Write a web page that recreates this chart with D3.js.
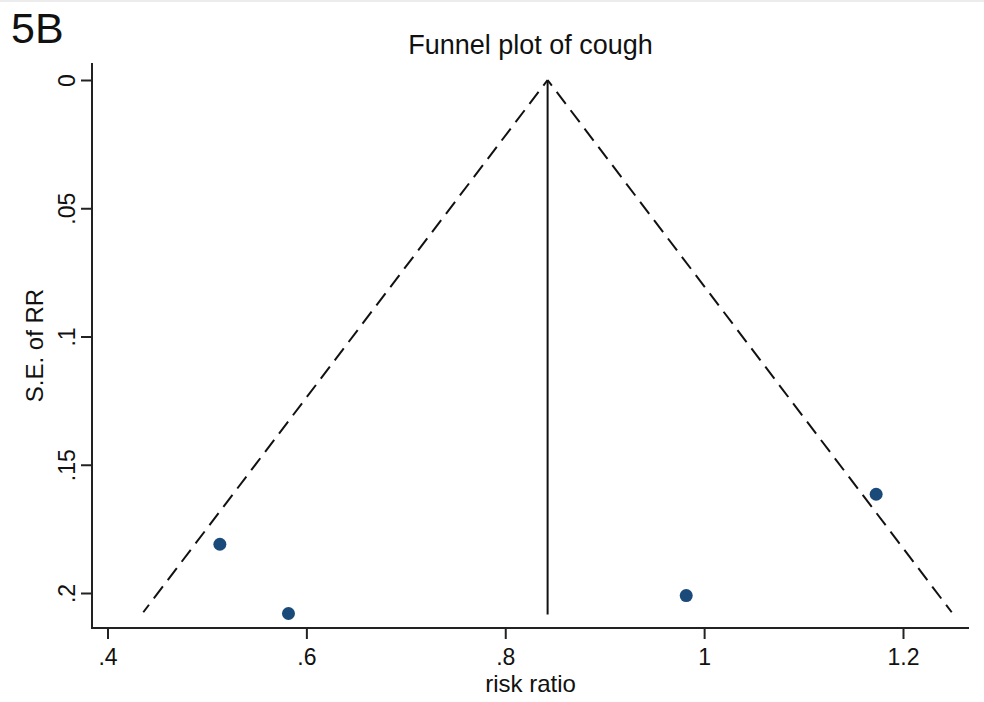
<!DOCTYPE html>
<html>
<head>
<meta charset="utf-8">
<script src="https://cdn.jsdelivr.net/npm/d3@7"></script>
<style>
    body { margin: 0; background: #fff; }
    svg { display: block; font-family: "Liberation Sans", Arial, sans-serif; }
</style>
</head>
<body>
<svg id="plate" width="984" height="702"></svg>
<script>
// study estimates
var riskRatio = [0.513, 0.582, 0.982, 1.173];
var stdErr = [0.181, 0.208, 0.201, 0.1615];
// pooled estimate and pseudo 95% limits (se from 0 to max)
var pooled = 0.8426;
var limitSE = [0, 0.2075];
var lowerLimit = [0.8426, 0.436];
var upperLimit = [0.8426, 1.249];
var xTicks = [0.4, 0.6, 0.8, 1, 1.2];
var yTicks = [0, 0.05, 0.1, 0.15, 0.2];

var svg = d3.select('#plate');

// plot frame in pixels
var margin = {left: 92, right: 969, top: 63, bottom: 628};

var x = d3.scaleLinear().domain([0.4, 1.2]).range([107.5, 903]);
var y = d3.scaleLinear().domain([0, 0.2]).range([80, 593]);

var fmt = function (d) { return d3.format('')(d).replace(/^0\./, '.'); };

// faint top border
svg.append('line')
    .attr('x1', 0).attr('x2', 984).attr('y1', 1).attr('y2', 1)
    .attr('stroke', '#ececec').attr('stroke-width', 2);

// panel label
svg.append('text')
    .attr('x', 11).attr('y', 43)
    .attr('font-size', 43)
    .attr('fill', '#111')
    .text('5B');

// title
svg.append('text')
    .attr('x', (margin.left + margin.right) / 2).attr('y', 54)
    .attr('text-anchor', 'middle')
    .attr('font-size', 27)
    .attr('fill', '#111')
    .text('Funnel plot of cough');

// x axis
var xAxis = svg.append('g')
    .attr('transform', 'translate(0,' + margin.bottom + ')')
    .call(d3.axisBottom(x).tickValues(xTicks).tickFormat(fmt).tickSize(11).tickSizeOuter(0));
xAxis.select('.domain').remove();
xAxis.append('line')
    .attr('x1', margin.left).attr('x2', margin.right)
    .attr('stroke', '#222').attr('stroke-width', 2);
xAxis.selectAll('.tick line').attr('stroke', '#222').attr('stroke-width', 2);
xAxis.selectAll('.tick text')
    .attr('font-size', 23).attr('fill', '#111')
    .attr('font-family', '"Liberation Sans", Arial, sans-serif')
    .attr('y', 21).attr('dy', '0.71em');

// y axis
var yAxis = svg.append('g')
    .attr('transform', 'translate(' + margin.left + ',0)')
    .call(d3.axisLeft(y).tickValues(yTicks).tickFormat(fmt).tickSize(11).tickSizeOuter(0));
yAxis.select('.domain').remove();
yAxis.append('line')
    .attr('y1', margin.top).attr('y2', margin.bottom + 1)
    .attr('stroke', '#222').attr('stroke-width', 2);
yAxis.selectAll('.tick line').attr('stroke', '#222').attr('stroke-width', 2);
yAxis.selectAll('.tick text')
    .attr('font-size', 23).attr('fill', '#111')
    .attr('font-family', '"Liberation Sans", Arial, sans-serif')
    .attr('x', null).attr('dy', null)
    .attr('text-anchor', 'middle')
    .attr('transform', 'translate(-17,0) rotate(-90)');

// axis titles
svg.append('text')
    .attr('x', (margin.left + margin.right) / 2).attr('y', 692)
    .attr('text-anchor', 'middle')
    .attr('font-size', 24).attr('fill', '#111')
    .text('risk ratio');

svg.append('text')
    .attr('transform', 'translate(43,' + (margin.top + margin.bottom) / 2 + ') rotate(-90)')
    .attr('text-anchor', 'middle')
    .attr('font-size', 24).attr('fill', '#111')
    .text('S.E. of RR');

// funnel limits
var limitLine = d3.line()
    .x(function (d) { return x(d[0]); })
    .y(function (d) { return y(d[1]); });

[lowerLimit, upperLimit].forEach(function (lim) {
    svg.append('path')
        .datum(d3.zip(lim, limitSE))
        .attr('d', limitLine)
        .attr('fill', 'none')
        .attr('stroke', '#111')
        .attr('stroke-width', 2)
        .attr('stroke-dasharray', '15,8')
        .attr('stroke-dashoffset', 8);
});

// pooled estimate line
svg.append('line')
    .attr('x1', x(pooled)).attr('x2', x(pooled))
    .attr('y1', y(0)).attr('y2', y(d3.max(stdErr)) + 1)
    .attr('stroke', '#111').attr('stroke-width', 2);

// studies
svg.append('g')
    .selectAll('circle')
    .data(d3.zip(riskRatio, stdErr))
    .join('circle')
    .attr('cx', function (d) { return x(d[0]); })
    .attr('cy', function (d) { return y(d[1]); })
    .attr('r', 6.5)
    .attr('fill', '#1a4a7a');
</script>
</body>
</html>
